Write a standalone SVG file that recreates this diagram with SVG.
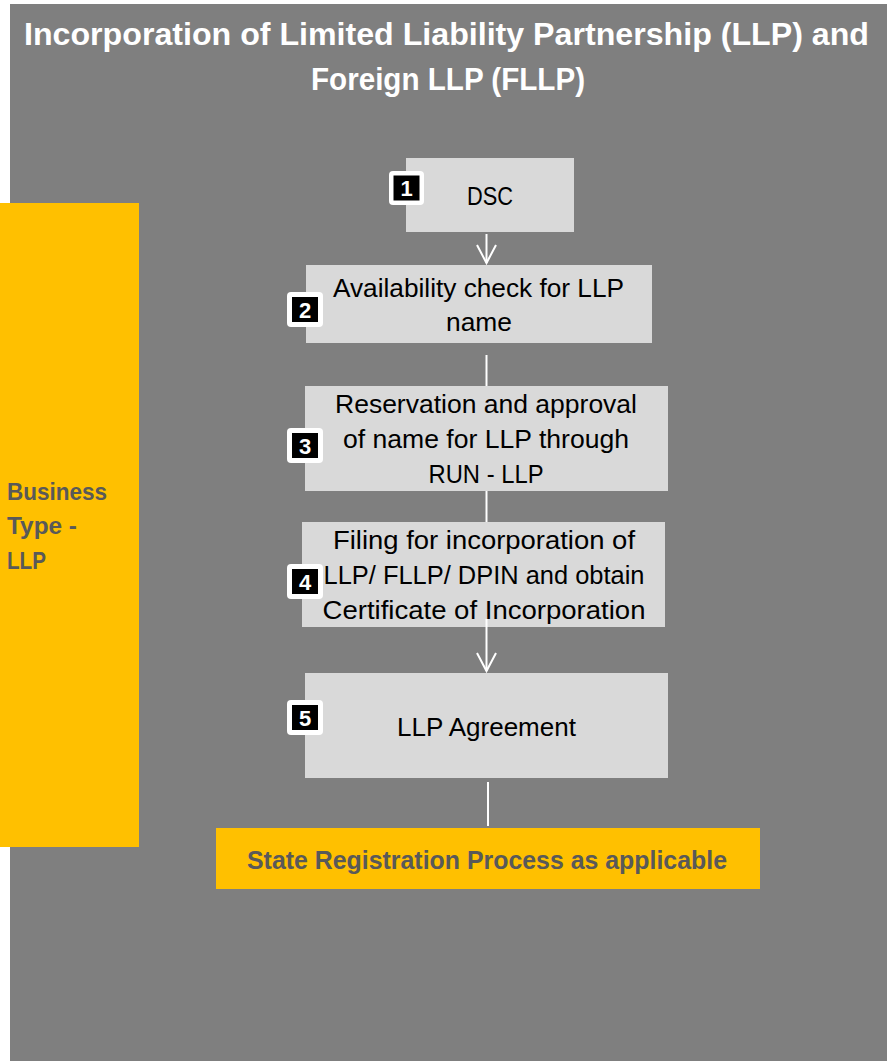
<svg xmlns="http://www.w3.org/2000/svg" width="887" height="1061" viewBox="0 0 887 1061">
  <style>
    .title { font-family: "Liberation Sans", Arial, sans-serif; font-weight: bold; font-size: 31px; fill: #ffffff; text-anchor: middle; }
    .box { fill: #d9d9d9; }
    .yellow { fill: #ffc000; }
    .txt { font-family: "Liberation Sans", Arial, sans-serif; font-size: 26px; fill: #000000; text-anchor: middle; }
    .ytxt { font-family: "Liberation Sans", Arial, sans-serif; font-weight: bold; fill: #595959; }
    .badge-o { fill: #ffffff; }
    .badge-i { fill: #000000; }
    .digit { font-family: "Liberation Sans", Arial, sans-serif; font-weight: bold; font-size: 22px; fill: #ffffff; text-anchor: middle; }
    .conn { stroke: #ffffff; stroke-width: 2; fill: none; }
  </style>
  <rect x="0" y="0" width="887" height="1061" fill="#ffffff"/>
  <rect x="10" y="4" width="877" height="1057" fill="#7f7f7f"/>

  <g id="title">
    <text class="title" x="446.5" y="45" textLength="845" lengthAdjust="spacingAndGlyphs">Incorporation of Limited Liability Partnership (LLP) and</text>
    <text class="title" x="448" y="90" textLength="274" lengthAdjust="spacingAndGlyphs">Foreign LLP (FLLP)</text>
  </g>

  <g id="business-type">
    <rect class="yellow" x="0" y="203" width="139" height="644"/>
    <text class="ytxt" font-size="24" x="7" y="500" textLength="100" lengthAdjust="spacingAndGlyphs">Business</text>
    <text class="ytxt" font-size="24" x="7" y="534" textLength="70" lengthAdjust="spacingAndGlyphs">Type -</text>
    <text class="ytxt" font-size="24" x="7" y="569" textLength="39" lengthAdjust="spacingAndGlyphs">LLP</text>
  </g>

  <g id="connectors">
    <line class="conn" x1="486.5" y1="234" x2="486.5" y2="263"/>
    <polyline class="conn" points="477,245 486.5,263 496,245"/>
    <line class="conn" x1="486.5" y1="355" x2="486.5" y2="386"/>
    <line class="conn" x1="486.5" y1="491" x2="486.5" y2="522"/>
    <line class="conn" x1="486.5" y1="619" x2="486.5" y2="671"/>
    <polyline class="conn" points="477,653 486.5,671 496,653"/>
    <line class="conn" x1="488" y1="782" x2="488" y2="826"/>
  </g>

  <g id="step1">
    <rect class="box" x="406" y="158" width="168" height="74"/>
    <text class="txt" x="490" y="205" textLength="46" lengthAdjust="spacingAndGlyphs">DSC</text>
    <rect class="badge-o" x="389" y="171" width="35" height="34" rx="4"/>
    <rect class="badge-i" x="393.5" y="175.5" width="26" height="25"/>
    <text class="digit" x="406.5" y="196">1</text>
  </g>

  <g id="step2">
    <rect class="box" x="306" y="265" width="346" height="78"/>
    <text class="txt" x="478.5" y="297" textLength="291" lengthAdjust="spacingAndGlyphs">Availability check for LLP</text>
    <text class="txt" x="479" y="331" textLength="66" lengthAdjust="spacingAndGlyphs">name</text>
    <rect class="badge-o" x="287" y="292" width="36" height="35" rx="4"/>
    <rect class="badge-i" x="292" y="297" width="26" height="25"/>
    <text class="digit" x="305" y="317.5">2</text>
  </g>

  <g id="step3">
    <rect class="box" x="305" y="386" width="363" height="105"/>
    <text class="txt" x="486" y="413" textLength="302" lengthAdjust="spacingAndGlyphs">Reservation and approval</text>
    <text class="txt" x="486" y="448" textLength="286" lengthAdjust="spacingAndGlyphs">of name for LLP through</text>
    <text class="txt" x="486" y="483" textLength="115" lengthAdjust="spacingAndGlyphs">RUN - LLP</text>
    <rect class="badge-o" x="287" y="428" width="36" height="35" rx="4"/>
    <rect class="badge-i" x="292" y="433" width="26" height="25"/>
    <text class="digit" x="305" y="453.5">3</text>
  </g>

  <g id="step4">
    <rect class="box" x="302" y="522" width="363" height="105"/>
    <text class="txt" x="484" y="549" textLength="302" lengthAdjust="spacingAndGlyphs">Filing for incorporation of</text>
    <text class="txt" x="484" y="584" textLength="321" lengthAdjust="spacingAndGlyphs">LLP/ FLLP/ DPIN and obtain</text>
    <text class="txt" x="484" y="619" textLength="323" lengthAdjust="spacingAndGlyphs">Certificate of Incorporation</text>
    <rect class="badge-o" x="287" y="564" width="36" height="35" rx="4"/>
    <rect class="badge-i" x="292" y="569" width="26" height="25"/>
    <text class="digit" x="305" y="589.5">4</text>
  </g>

  <line class="conn" x1="486.5" y1="619" x2="486.5" y2="627"/>

  <g id="step5">
    <rect class="box" x="305" y="673" width="363" height="105"/>
    <text class="txt" x="486.5" y="736" textLength="179" lengthAdjust="spacingAndGlyphs">LLP Agreement</text>
    <rect class="badge-o" x="287" y="700" width="36" height="35" rx="4"/>
    <rect class="badge-i" x="292" y="705" width="26" height="25"/>
    <text class="digit" x="305" y="725.5">5</text>
  </g>

  <g id="state-registration">
    <rect class="yellow" x="216" y="828" width="544" height="61"/>
    <text class="ytxt" font-size="25" x="487" y="869" text-anchor="middle" textLength="480" lengthAdjust="spacingAndGlyphs">State Registration Process as applicable</text>
  </g>
</svg>
